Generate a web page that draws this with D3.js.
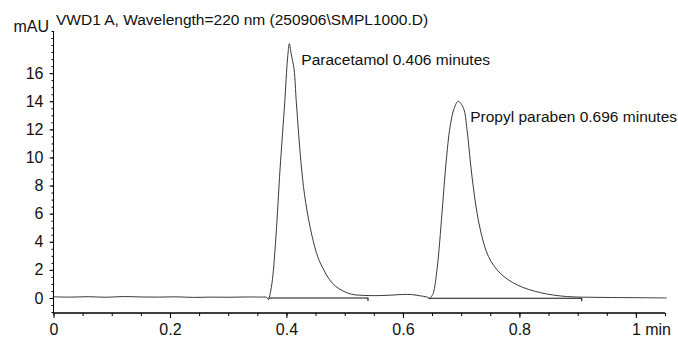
<!DOCTYPE html>
<html>
<head>
  <meta charset="utf-8">
  <script src="https://cdn.jsdelivr.net/npm/d3@7"></script>
  <style>
    body { margin: 0; background: #fff; }
    text { font-family: "Liberation Sans", Arial, sans-serif; fill: #111; }
  </style>
</head>
<body>
<svg width="678" height="337"></svg>
<script>
  // detector trace (time in min, signal in mAU)
  var traceTime = [
    0, 0.03, 0.06, 0.09, 0.12, 0.15, 0.18, 0.21, 0.24, 0.27, 0.30, 0.33, 0.36, 0.366,
    0.369, 0.372, 0.376, 0.382, 0.389, 0.397, 0.402, 0.405, 0.408, 0.413, 0.417, 0.426,
    0.433, 0.444, 0.454, 0.464, 0.474, 0.484, 0.497, 0.512, 0.525, 0.54, 0.56, 0.58,
    0.60, 0.615, 0.63, 0.64, 0.644, 0.6455, 0.648, 0.652, 0.659, 0.667, 0.674, 0.681,
    0.688, 0.695, 0.704, 0.710, 0.716, 0.723, 0.733, 0.747, 0.767, 0.796, 0.836, 0.881,
    0.92, 0.96, 1.0, 1.053
  ];
  var traceMAU = [
    0.08, 0.06, 0.09, 0.05, 0.10, 0.07, 0.06, 0.08, 0.04, 0.06, 0.05, 0.07, 0.06, 0.05,
    -0.12, 0.3, 1.33, 4.4, 9.17, 13.9, 17.1, 18.1, 17.4, 16.3, 13.9, 9.17,
    6.8, 4.4, 2.9, 2.0, 1.3, 0.85, 0.5, 0.26, 0.2, 0.17, 0.17, 0.2,
    0.25, 0.24, 0.15, 0.08, 0.02, -0.08, 0.05, 0.33, 2.2, 6.0, 9.6, 12.2,
    13.5, 14.0, 13.5, 12.0, 9.6, 7.2, 4.84, 2.94, 1.76, 0.93, 0.38, 0.1,
    0.05, 0.03, 0.02, 0.0
  ];

  // integration baselines [start, end, level]
  var baseStart = [0.369, 0.644];
  var baseEnd = [0.54, 0.907];
  var baseLevel = [0.0, -0.02];

  var peakLabels = ["Paracetamol 0.406 minutes", "Propyl paraben 0.696 minutes"];
  var peakTime = [0.405, 0.695];
  var peakMAU = [18.1, 14.0];

  var xMajor = [0, 0.2, 0.4, 0.6, 0.8, 1.0];
  var xMajorLabels = ["0", "0.2", "0.4", "0.6", "0.8", "1 min"];
  var yMajor = [0, 2, 4, 6, 8, 10, 12, 14, 16];

  var svg = d3.select("svg");

  var x = d3.scaleLinear().domain([0, 1.05]).range([53.5, 665]);
  var y = d3.scaleLinear().domain([-1.07, 19]).range([313, 31]);

  // title and unit
  svg.append("text")
      .attr("x", 56).attr("y", 25)
      .attr("font-size", 15.5)
      .text("VWD1 A, Wavelength=220 nm (250906\\SMPL1000.D)");

  svg.append("text")
      .attr("x", 49).attr("y", 32)
      .attr("text-anchor", "end")
      .attr("font-size", 16)
      .text("mAU");

  // y axis
  var yAxis = svg.append("g").attr("transform", "translate(" + x(0) + ",0)");
  yAxis.call(d3.axisLeft(y).tickValues(d3.range(-1, 19.01, 0.5)).tickSize(2).tickFormat(""));
  yAxis.append("g")
      .call(d3.axisLeft(y).tickValues(yMajor).tickSize(4).tickPadding(6).tickFormat(d3.format("d")));
  yAxis.selectAll(".domain").attr("d", "M0," + y(19) + "V" + y(-1.07));
  yAxis.selectAll("text").attr("font-size", 16).attr("font-family", "Liberation Sans, Arial, sans-serif").attr("fill", "#111");

  // x axis
  var xAxis = svg.append("g").attr("transform", "translate(0," + y(-1.07) + ")");
  xAxis.call(d3.axisBottom(x).tickValues(d3.range(0, 1.0501, 0.05)).tickSize(3).tickFormat(""));
  xAxis.append("g")
      .call(d3.axisBottom(x).tickValues(xMajor).tickSize(5).tickPadding(6)
        .tickFormat(function (d, i) { return xMajorLabels[i]; }));
  xAxis.selectAll(".domain").attr("d", "M" + x(0) + ",0H" + x(1.05));
  xAxis.selectAll("text").attr("font-size", 16).attr("font-family", "Liberation Sans, Arial, sans-serif").attr("fill", "#111");
  // "1 min": keep the digit centred on its tick
  xAxis.selectAll("text").filter(function (d) { return d === 1.0; })
      .attr("text-anchor", "start").attr("dx", -4.5);

  // baselines
  baseStart.forEach(function (s, i) {
    svg.append("path")
        .attr("fill", "none").attr("stroke", "#111").attr("stroke-width", 1.1)
        .attr("d", "M" + x(s) + "," + y(baseLevel[i]) + "H" + x(baseEnd[i]) + "v3");
  });

  // trace
  var pts = traceTime.map(function (t, i) { return [t, traceMAU[i]]; });
  svg.append("path")
      .datum(pts)
      .attr("fill", "none").attr("stroke", "#3a3a3a").attr("stroke-width", 1)
      .attr("d", d3.line()
        .x(function (d) { return x(d[0]); })
        .y(function (d) { return y(d[1]); })
        .curve(d3.curveCatmullRom.alpha(0.5)));

  // peak labels
  peakLabels.forEach(function (lab, i) {
    svg.append("text")
        .attr("x", x(peakTime[i]) + 12)
        .attr("y", y(peakMAU[i]) + 21)
        .attr("font-size", 15.5)
        .text(lab);
  });
</script>
</body>
</html>
